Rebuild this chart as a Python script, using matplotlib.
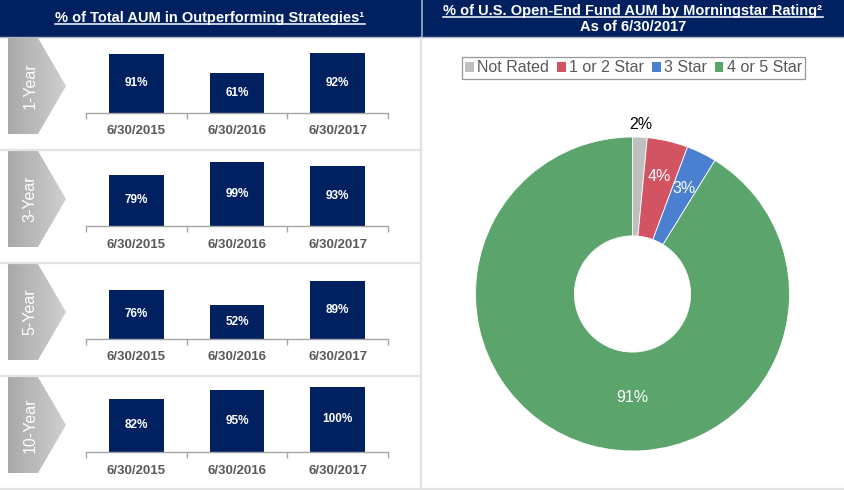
import numpy as np
import matplotlib
matplotlib.use("Agg")
import matplotlib.pyplot as plt
from matplotlib.patches import Polygon, Rectangle, Patch
from matplotlib.lines import Line2D

# ---------------- data ----------------
periods = ["1-Year", "3-Year", "5-Year", "10-Year"]
dates = ["6/30/2015", "6/30/2016", "6/30/2017"]
outperf_1y = [91, 61, 92]
outperf_3y = [79, 99, 93]
outperf_5y = [76, 52, 89]
outperf_10y = [82, 95, 100]
rating_labels = ["Not Rated", "1 or 2 Star", "3 Star", "4 or 5 Star"]
rating_values = [1.5, 4.2, 3.1, 91.2]
left_title = "% of Total AUM in Outperforming Strategies\u00b9"
right_title1 = "% of U.S. Open-End Fund AUM by Morningstar Rating\u00b2"
right_title2 = "As of 6/30/2017"

# ---------------- style ----------------
plt.rcParams['font.family'] = ['Liberation Sans', 'DejaVu Sans']
NAVY = "#002060"
TICK_GRAY = "#595959"
AXIS_GRAY = "#A6A6A6"
SEP_GRAY = "#E3E3E3"
pie_colors = ["#BFBFBF", "#D25462", "#4A80CF", "#5BA46B"]

W, H = 845, 490
fig = plt.figure(figsize=(W / 100, H / 100), dpi=100)
fig.patch.set_facecolor("white")


def rect(x0, y0, x1, y1):
    """pixel box (top-left origin) -> figure fraction rect"""
    return [x0 / W, 1 - y1 / H, (x1 - x0) / W, (y1 - y0) / H]


# background drawing axes in pixel coords
bg = fig.add_axes([0, 0, 1, 1], zorder=-5)
bg.set_xlim(0, W)
bg.set_ylim(H, 0)
bg.axis("off")

# headers
bg.add_patch(Rectangle((0, 0), 421, 37, color=NAVY, lw=0))
bg.add_patch(Rectangle((423, 0), W - 423, 37, color=NAVY, lw=0))
bg.plot([0, W], [37.5, 37.5], color="#A9B6CE", lw=1)
bg.plot([422, 422], [0, 37], color="#6F80A8", lw=1.2)
bg.plot([421.5, 421.5], [38, 489], color=SEP_GRAY, lw=1.6)

row_top0 = 37
row_h = 113
series = [outperf_1y, outperf_3y, outperf_5y, outperf_10y]

# gradient for chevrons
grad = np.linspace(0, 1, 64).reshape(1, -1)
cmap = matplotlib.colors.LinearSegmentedColormap.from_list("g", ["#A9A9A9", "#CFCFCF"])

for i, (per, vals) in enumerate(zip(periods, series)):
    top = row_top0 + i * row_h
    # separator line below row
    bg.plot([0, 421], [top + row_h, top + row_h], color=SEP_GRAY, lw=1.6)
    # chevron
    poly = Polygon([(8, top + 1), (38, top + 1), (66, top + 49), (38, top + 97), (8, top + 97)],
                   closed=True, facecolor="none", edgecolor="none")
    bg.add_patch(poly)
    im = bg.imshow(grad, cmap=cmap, extent=(8, 66, top + 97, top + 1), aspect="auto", zorder=1)
    im.set_clip_path(poly)
    bg.text(30, top + 49, per, rotation=90, color="white", fontsize=11.5,
            ha="center", va="center", zorder=2)

    # bar axes
    base = top + 76
    ax = fig.add_axes(rect(86, top + 2, 388, base))
    x = np.arange(len(dates))
    bars = ax.bar(x, vals, width=0.545, color=NAVY)
    ax.set_xlim(-0.5, 2.5)
    ax.set_ylim(0, 74 / 0.65)
    for b, v in zip(bars, vals):
        ax.text(b.get_x() + b.get_width() / 2, v / 2, f"{v}%", color="white",
                fontsize=8.5, fontweight="bold", ha="center", va="center")
    for s in ["top", "right", "left"]:
        ax.spines[s].set_visible(False)
    ax.spines["bottom"].set_color(AXIS_GRAY)
    ax.spines["bottom"].set_linewidth(1)
    ax.set_yticks([])
    ax.set_xticks(x)
    ax.set_xticklabels(dates, fontsize=9.5, fontweight="bold", color=TICK_GRAY)
    ax.set_xticks([-0.5, 0.5, 1.5, 2.5], minor=True)
    ax.tick_params(axis="x", which="major", length=0, pad=9)
    ax.tick_params(axis="x", which="minor", length=4.5, color=AXIS_GRAY, width=1)
    ax.patch.set_alpha(0)

# bottom line on right
bg.plot([423, W], [488.5, 488.5], color=SEP_GRAY, lw=1.6)

# ---------------- pie ----------------
cx, cy, R = 632.5, 294, 157
pax = fig.add_axes(rect(cx - R, cy - R, cx + R, cy + R))
wedges, _ = pax.pie(rating_values, colors=pie_colors, startangle=90, counterclock=False,
                    radius=1, wedgeprops=dict(width=0.63, edgecolor="white", linewidth=0.6))
pax.set_xlim(-1, 1)
pax.set_ylim(-1, 1)
pax.set_aspect("equal")
pax.axis("off")

label_r = [1.08, 0.77, 0.75, 0.66]
label_c = ["black", "white", "white", "white"]
cum = np.cumsum([0] + rating_values)
for k, v in enumerate(rating_values):
    mid = (cum[k] + cum[k + 1]) / 2 / 100.0
    ang = np.pi / 2 - 2 * np.pi * mid
    if k == len(rating_values) - 1:
        ang = -np.pi / 2
    pax.text(label_r[k] * np.cos(ang), label_r[k] * np.sin(ang), f"{v:.0f}%",
             ha="center", va="center", fontsize=11.5, color=label_c[k], clip_on=False)

handles = [Patch(facecolor=c, edgecolor="none") for c in pie_colors]
leg = fig.legend(handles, rating_labels, loc="center", bbox_to_anchor=(633.5 / W, 1 - 68 / H),
                 ncol=4, frameon=True, fancybox=False, edgecolor="#7F7F7F",
                 handlelength=0.55, handleheight=0.55, handletextpad=0.2, columnspacing=0.5,
                 borderpad=0.2, borderaxespad=0, fontsize=11.5)
leg.get_frame().set_linewidth(0.9)
for t in leg.get_texts():
    t.set_color(TICK_GRAY)

# ---------------- headers text ----------------
t1 = bg.text(210, 18, left_title, color="white", fontsize=10.5, fontweight="bold",
             ha="center", va="center")
t2 = bg.text(633, 11, right_title1, color="white", fontsize=10.5, fontweight="bold",
             ha="center", va="center")
t3 = bg.text(633, 27, right_title2, color="white", fontsize=10.5, fontweight="bold",
             ha="center", va="center")

fig.canvas.draw()
r = fig.canvas.get_renderer()
for t, yoff in [(t1, 0), (t2, 0)]:
    bb = t.get_window_extent(renderer=r)
    inv = bg.transData.inverted()
    (x0, y0), (x1, y1) = inv.transform([(bb.x0, bb.y0), (bb.x1, bb.y1)])
    bg.plot([x0, x1], [y0 - 0.5, y0 - 0.5], color="white", lw=1.1)

fig.savefig("out.png", dpi=100, facecolor="white")
